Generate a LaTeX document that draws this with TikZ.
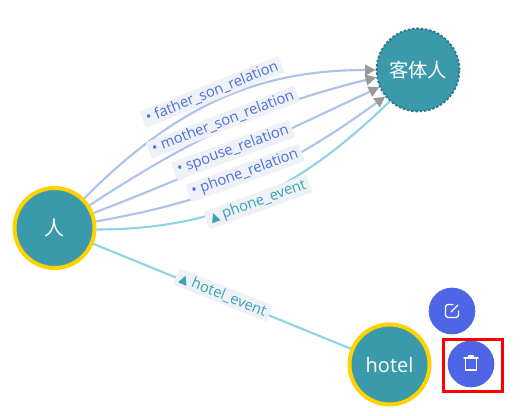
\documentclass[tikz,border=0pt]{standalone}
\usepackage{fontspec}
\usepackage{xcolor}
\setmainfont{Open Sans}
\newfontfamily\cjkfont{Noto Sans CJK SC}
\newfontfamily\symfont{DejaVu Sans}
\usetikzlibrary{arrows.meta, positioning, calc}
\definecolor{nodeteal}{HTML}{3A9AAB}
\definecolor{ringgold}{HTML}{FFD200}
\definecolor{relblue}{HTML}{AFC2EE}
\definecolor{evteal}{HTML}{8ED4E4}
\definecolor{reltext}{HTML}{4F6FDC}
\definecolor{evtext}{HTML}{38A2B8}
\definecolor{labelbg}{HTML}{EEF1F6}
\definecolor{btnblue}{HTML}{4E66E6}

\begin{document}
\begin{tikzpicture}[
    x=0.75pt, y=0.75pt,
    entity/.style={circle, draw=ringgold, line width=3pt, fill=nodeteal,
                minimum size=60pt, inner sep=0pt, text=white, font=\fontsize{15}{15}\selectfont},
    target/.style={entity, draw=nodeteal!80!black, line width=1.5pt, dash pattern=on 2pt off 1.2pt,
                minimum size=62pt, font=\fontsize{14.5}{14.5}\selectfont},
    btn/.style={circle, fill=btnblue, minimum size=35pt, inner sep=0pt},
    rel/.style={draw=relblue, line width=1.6pt, -{Triangle[length=8pt,width=8pt,color=gray!80]}},
    ev/.style={draw=evteal, line width=1.6pt},
    lab/.style={fill=labelbg, rounded corners=1pt, inner xsep=3pt, inner ysep=1.5pt, font=\fontsize{11}{11}\selectfont},
    rellab/.style={lab, text=reltext},
    evlab/.style={lab, text=evtext},
    icon/.style={draw=white, line width=1pt, line cap=round, line join=round}
]
\useasboundingbox (0,0) rectangle (529,415);

\node[entity] (person) at (54.5,187) {\cjkfont 人};
\node[target] (object) at (418,345) {\cjkfont 客体人};
\node[entity] (hotel)  at (389.5,50.5) {hotel};
\node[btn] (edit)   at (452,104) {};
\node[btn] (delete) at (471,51) {};
\node[draw=red, line width=2.25pt, minimum width=44pt, minimum height=39pt] (mark) at (473,49.5) {};

% edges
\draw[rel] (person.45) to[out=45, in=180] (object.180);
\draw[rel] (person.33) to[out=33, in=194] (object.190);
\draw[rel] (person.21) to[out=21, in=205] (object.204);
\draw[rel] (person.9)  to[out=10, in=216] (object.219);
\draw[ev]  (person.-2) to[out=0, in=224] (object.228);
\draw[ev]  (person) -- (hotel);

% labels
\node[rellab, rotate=22] (fatherlab) at (212,323) {• father\_son\_relation};
\node[rellab, rotate=21] (motherlab) at (223,293) {• mother\_son\_relation};
\node[rellab, rotate=20] (spouselab) at (233,265) {• spouse\_relation};
\node[rellab, rotate=20] (phonelab)  at (245,242) {• phone\_relation};
\node[evlab, rotate=20]  (eventlab)  at (258,213) {{\symfont\small ▲} phone\_event};
\node[evlab, rotate=-22] (hotellab)  at (223,120) {{\symfont\small ▲} hotel\_event};

% icons
\begin{scope}[shift={(edit.center)}]
\draw[icon] (1,6.5) -- (-4,6.5) arc (90:180:2.5) -- (-6.5,-4) arc (180:270:2.5) -- (4,-6.5) arc (270:360:2.5) -- (6.5,0);
\draw[icon] (-1,-1) -- (6,6);
\end{scope}
\begin{scope}[shift={(delete.center)}]
\draw[icon] (-7,6) -- (7,6);
\draw[icon] (-2.5,6) -- (-2.5,8) -- (2.5,8) -- (2.5,6);
\draw[icon] (-5.5,6) -- (-5.5,-6) -- (5.5,-6) -- (5.5,6);
\end{scope}
\end{tikzpicture}
\end{document}
